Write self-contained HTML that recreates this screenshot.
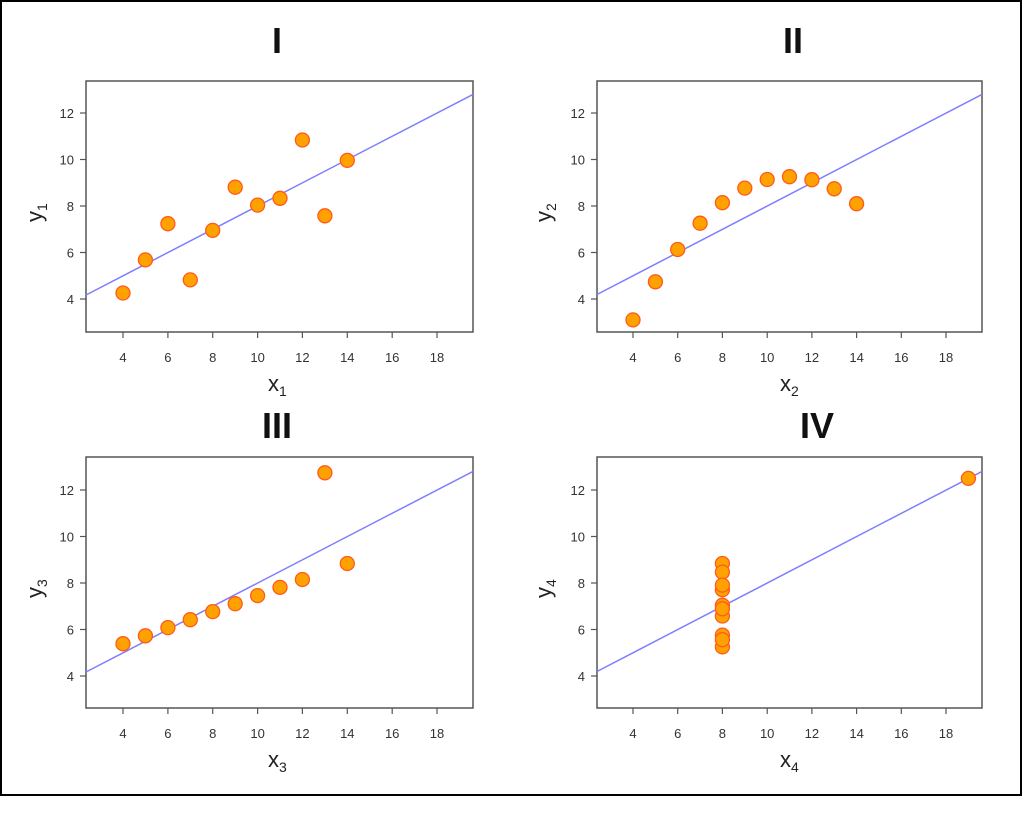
<!DOCTYPE html>
<html><head><style>
body{margin:0;background:#fff;}
svg{display:block;font-family:"Liberation Sans",Arial,sans-serif;}
.t{font-size:13px;fill:#333;}
.ti{font-size:36px;font-weight:bold;fill:#111;text-anchor:middle;}
.ax{font-size:22px;fill:#222;}
.sub{font-size:14px;}
circle{fill:#ffa200;stroke:#ff5a1a;stroke-width:1.3;}
.bx{fill:none;stroke:#555;stroke-width:1.5;}
.rl{stroke:#7f7fff;stroke-width:1.5;}
.tk{stroke:#555;stroke-width:1.2;}
</style></head><body>
<svg width="1024" height="833" viewBox="0 0 1024 833">
<rect x="1" y="1" width="1020" height="794" fill="#fff" stroke="#000" stroke-width="2"/>

<text class="ti" x="277" y="53">I</text>
<text class="ti" x="793" y="53">II</text>
<text class="ti" x="277" y="438">III</text>
<text class="ti" x="817" y="438">IV</text>

<!-- Panel I -->
<g>
<rect class="bx" x="86" y="81" width="387" height="251"/>
<g class="tk">
<line x1="80" y1="299" x2="86" y2="299"/><line x1="80" y1="252.5" x2="86" y2="252.5"/><line x1="80" y1="206" x2="86" y2="206"/><line x1="80" y1="159.5" x2="86" y2="159.5"/><line x1="80" y1="113" x2="86" y2="113"/>
<line x1="123" y1="332" x2="123" y2="338"/><line x1="167.9" y1="332" x2="167.9" y2="338"/><line x1="212.7" y1="332" x2="212.7" y2="338"/><line x1="257.6" y1="332" x2="257.6" y2="338"/><line x1="302.4" y1="332" x2="302.4" y2="338"/><line x1="347.3" y1="332" x2="347.3" y2="338"/><line x1="392.2" y1="332" x2="392.2" y2="338"/><line x1="437" y1="332" x2="437" y2="338"/>
</g>
<g class="t" text-anchor="end">
<text x="74" y="304">4</text><text x="74" y="257.5">6</text><text x="74" y="211">8</text><text x="74" y="164.5">10</text><text x="74" y="118">12</text>
</g>
<g class="t" text-anchor="middle">
<text x="123" y="362">4</text><text x="167.9" y="362">6</text><text x="212.7" y="362">8</text><text x="257.6" y="362">10</text><text x="302.4" y="362">12</text><text x="347.3" y="362">14</text><text x="392.2" y="362">16</text><text x="437" y="362">18</text>
</g>
<text class="ax" x="268" y="391">x<tspan class="sub" dy="5">1</tspan></text>
<text class="ax" transform="translate(42,222) rotate(-90)">y<tspan class="sub" dy="5">1</tspan></text>
<line class="rl" x1="86" y1="295" x2="473" y2="94.4"/>
<circle cx="257.6" cy="205.1" r="7"/><circle cx="212.7" cy="230.4" r="7"/><circle cx="324.9" cy="215.8" r="7"/><circle cx="235.2" cy="187.2" r="7"/><circle cx="280" cy="198.3" r="7"/><circle cx="347.3" cy="160.4" r="7"/><circle cx="167.9" cy="223.7" r="7"/><circle cx="123" cy="293" r="7"/><circle cx="302.4" cy="140" r="7"/><circle cx="190.3" cy="279.9" r="7"/><circle cx="145.4" cy="259.9" r="7"/>
</g>

<!-- Panel II -->
<g>
<rect class="bx" x="597" y="81" width="385" height="251"/>
<g class="tk">
<line x1="591" y1="299" x2="597" y2="299"/><line x1="591" y1="252.5" x2="597" y2="252.5"/><line x1="591" y1="206" x2="597" y2="206"/><line x1="591" y1="159.5" x2="597" y2="159.5"/><line x1="591" y1="113" x2="597" y2="113"/>
<line x1="633" y1="332" x2="633" y2="338"/><line x1="677.7" y1="332" x2="677.7" y2="338"/><line x1="722.4" y1="332" x2="722.4" y2="338"/><line x1="767.2" y1="332" x2="767.2" y2="338"/><line x1="811.9" y1="332" x2="811.9" y2="338"/><line x1="856.6" y1="332" x2="856.6" y2="338"/><line x1="901.3" y1="332" x2="901.3" y2="338"/><line x1="946" y1="332" x2="946" y2="338"/>
</g>
<g class="t" text-anchor="end">
<text x="585" y="304">4</text><text x="585" y="257.5">6</text><text x="585" y="211">8</text><text x="585" y="164.5">10</text><text x="585" y="118">12</text>
</g>
<g class="t" text-anchor="middle">
<text x="633" y="362">4</text><text x="677.7" y="362">6</text><text x="722.4" y="362">8</text><text x="767.2" y="362">10</text><text x="811.9" y="362">12</text><text x="856.6" y="362">14</text><text x="901.3" y="362">16</text><text x="946" y="362">18</text>
</g>
<text class="ax" x="780" y="391">x<tspan class="sub" dy="5">2</tspan></text>
<text class="ax" transform="translate(551,222) rotate(-90)">y<tspan class="sub" dy="5">2</tspan></text>
<line class="rl" x1="597" y1="294.5" x2="982" y2="94.4"/>
<circle cx="767.2" cy="179.5" r="7"/><circle cx="722.4" cy="202.7" r="7"/><circle cx="834.2" cy="188.8" r="7"/><circle cx="744.8" cy="188.1" r="7"/><circle cx="789.5" cy="176.7" r="7"/><circle cx="856.6" cy="203.7" r="7"/><circle cx="677.7" cy="249.5" r="7"/><circle cx="633" cy="319.9" r="7"/><circle cx="811.9" cy="179.7" r="7"/><circle cx="700.1" cy="223.2" r="7"/><circle cx="655.4" cy="281.8" r="7"/>
</g>

<!-- Panel III -->
<g>
<rect class="bx" x="86" y="457" width="387" height="251"/>
<g class="tk">
<line x1="80" y1="676" x2="86" y2="676"/><line x1="80" y1="629.5" x2="86" y2="629.5"/><line x1="80" y1="583" x2="86" y2="583"/><line x1="80" y1="536.5" x2="86" y2="536.5"/><line x1="80" y1="490" x2="86" y2="490"/>
<line x1="123" y1="708" x2="123" y2="714"/><line x1="167.9" y1="708" x2="167.9" y2="714"/><line x1="212.7" y1="708" x2="212.7" y2="714"/><line x1="257.6" y1="708" x2="257.6" y2="714"/><line x1="302.4" y1="708" x2="302.4" y2="714"/><line x1="347.3" y1="708" x2="347.3" y2="714"/><line x1="392.2" y1="708" x2="392.2" y2="714"/><line x1="437" y1="708" x2="437" y2="714"/>
</g>
<g class="t" text-anchor="end">
<text x="74" y="681">4</text><text x="74" y="634.5">6</text><text x="74" y="588">8</text><text x="74" y="541.5">10</text><text x="74" y="495">12</text>
</g>
<g class="t" text-anchor="middle">
<text x="123" y="738">4</text><text x="167.9" y="738">6</text><text x="212.7" y="738">8</text><text x="257.6" y="738">10</text><text x="302.4" y="738">12</text><text x="347.3" y="738">14</text><text x="392.2" y="738">16</text><text x="437" y="738">18</text>
</g>
<text class="ax" x="268" y="767">x<tspan class="sub" dy="5">3</tspan></text>
<text class="ax" transform="translate(42,598) rotate(-90)">y<tspan class="sub" dy="5">3</tspan></text>
<line class="rl" x1="86" y1="672" x2="473" y2="471.4"/>
<circle cx="257.6" cy="595.6" r="7"/><circle cx="212.7" cy="611.6" r="7"/><circle cx="324.9" cy="472.8" r="7"/><circle cx="235.2" cy="603.7" r="7"/><circle cx="280" cy="587.4" r="7"/><circle cx="347.3" cy="563.5" r="7"/><circle cx="167.9" cy="627.6" r="7"/><circle cx="123" cy="643.7" r="7"/><circle cx="302.4" cy="579.5" r="7"/><circle cx="190.3" cy="619.7" r="7"/><circle cx="145.4" cy="635.8" r="7"/>
</g>

<!-- Panel IV -->
<g>
<rect class="bx" x="597" y="457" width="385" height="251"/>
<g class="tk">
<line x1="591" y1="676" x2="597" y2="676"/><line x1="591" y1="629.5" x2="597" y2="629.5"/><line x1="591" y1="583" x2="597" y2="583"/><line x1="591" y1="536.5" x2="597" y2="536.5"/><line x1="591" y1="490" x2="597" y2="490"/>
<line x1="633" y1="708" x2="633" y2="714"/><line x1="677.7" y1="708" x2="677.7" y2="714"/><line x1="722.4" y1="708" x2="722.4" y2="714"/><line x1="767.2" y1="708" x2="767.2" y2="714"/><line x1="811.9" y1="708" x2="811.9" y2="714"/><line x1="856.6" y1="708" x2="856.6" y2="714"/><line x1="901.3" y1="708" x2="901.3" y2="714"/><line x1="946" y1="708" x2="946" y2="714"/>
</g>
<g class="t" text-anchor="end">
<text x="585" y="681">4</text><text x="585" y="634.5">6</text><text x="585" y="588">8</text><text x="585" y="541.5">10</text><text x="585" y="495">12</text>
</g>
<g class="t" text-anchor="middle">
<text x="633" y="738">4</text><text x="677.7" y="738">6</text><text x="722.4" y="738">8</text><text x="767.2" y="738">10</text><text x="811.9" y="738">12</text><text x="856.6" y="738">14</text><text x="901.3" y="738">16</text><text x="946" y="738">18</text>
</g>
<text class="ax" x="780" y="767">x<tspan class="sub" dy="5">4</tspan></text>
<text class="ax" transform="translate(551,598) rotate(-90)">y<tspan class="sub" dy="5">4</tspan></text>
<line class="rl" x1="597" y1="671.5" x2="982" y2="471.4"/>
<circle cx="722.4" cy="616" r="7"/><circle cx="722.4" cy="635.1" r="7"/><circle cx="722.4" cy="589.7" r="7"/><circle cx="722.4" cy="563.5" r="7"/><circle cx="722.4" cy="572.1" r="7"/><circle cx="722.4" cy="605.3" r="7"/><circle cx="722.4" cy="646.9" r="7"/><circle cx="722.4" cy="639.7" r="7"/><circle cx="722.4" cy="585.1" r="7"/><circle cx="722.4" cy="608.8" r="7"/><circle cx="968.4" cy="478.4" r="7"/>
</g>
</svg>
</body></html>
